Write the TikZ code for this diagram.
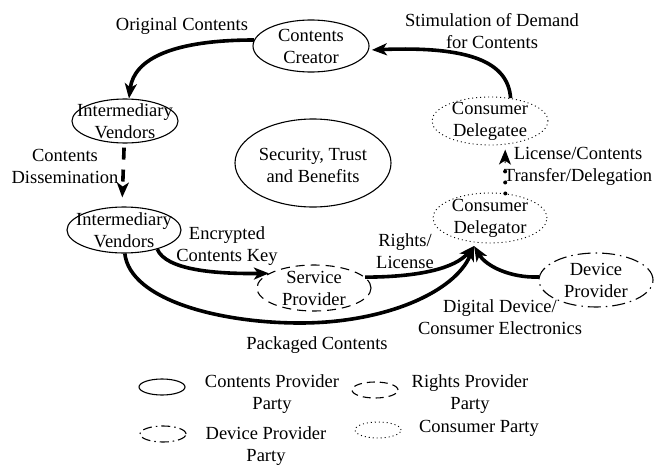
\documentclass[tikz,border=0pt]{standalone}
\usepackage{fontspec}
\setmainfont{Liberation Serif}
\usetikzlibrary{arrows.meta,shapes.geometric}

\tikzset{
  party/.style={draw, ellipse, inner sep=0pt, line width=1.1pt},
  contentsparty/.style={party},
  rightsparty/.style={party, dash pattern=on 9pt off 6pt},
  deviceparty/.style={party, dash pattern=on 13pt off 5pt on 1.5pt off 5pt},
  consumerparty/.style={party, line width=0.9pt, dash pattern=on 1pt off 3pt},
  big/.style={minimum width=114pt, minimum height=48pt},
  small/.style={minimum width=46pt, minimum height=16pt},
  txt/.style={align=center, inner sep=0pt},
  head/.style={-{Stealth[length=15pt,width=12pt,inset=4pt]}},
  flow/.style={line width=3.6pt, head},
  dashflow/.style={flow, dash pattern=on 12pt off 10pt},
  dotline/.style={line width=4pt, line cap=round, dash pattern=on 0pt off 11pt},
}

\begin{document}
\begin{tikzpicture}[x=1pt, y=-1pt, font=\fontsize{18.5}{22}\selectfont]
\useasboundingbox (0,0) rectangle (656,471);

% parties
\node[contentsparty, minimum width=116pt, minimum height=52pt] (cc) at (311,46) {};
\node[contentsparty, minimum width=106pt, minimum height=44pt] (iv1) at (125,121) {};
\node[contentsparty, minimum width=114pt, minimum height=46pt] (iv2) at (124,230) {};
\node[contentsparty, minimum width=156pt, minimum height=88pt] (stb) at (313,163) {};
\node[rightsparty, big, minimum height=46pt] (sp) at (314,288) {};
\node[deviceparty, big, minimum height=54pt] (dp) at (596,280) {};
\node[consumerparty, minimum width=116pt, minimum height=48pt] (cde) at (490,121) {};
\node[consumerparty, big, minimum height=50pt] (cdr) at (490,218) {};

% party names
\node[txt] (cct)  at (cc.center)  {Contents\\Creator};
\node[txt] (iv1t) at (iv1.center) {Intermediary\\Vendors};
\node[txt] (iv2t) at (iv2.center) {Intermediary\\Vendors};
\node[txt] (stbt) at (313,165)    {Security, Trust\\and Benefits};
\node[txt] (spt)  at (sp.center)  {Service\\Provider};
\node[txt] (dpt)  at (dp.center)  {Device\\Provider};
\node[txt] (cdet) at (cde.center) {Consumer\\Delegatee};
\node[txt] (cdrt) at (cdr.center) {Consumer\\Delegator};

% point where the three incoming flows meet under the delegator
\coordinate (meet) at (474,246);
% base of the head on the dotted delegation flow
\coordinate (dotbase) at (505,163);

% flows
\draw[flow] (cc.174) .. controls (175,40) and (134,58) .. (iv1.80);
\draw[dashflow, shorten <=4pt, shorten >=9pt] (iv1.-92) -- (iv2.95);
\draw[flow] (iv2.-30) .. controls (166,270) and (215,274) .. (sp.162);
\draw[flow] (iv2.-88) .. controls (130,300) and (220,323) .. (300,323)
            .. controls (385,323) and (455,292) .. (meet);
\draw[flow] (sp.12) .. controls (420,277) and (455,268) .. (meet);
\draw[flow] (dp.177) .. controls (510,278) and (486,266) .. (meet);
\draw[dotline] (cdr.58) -- (dotbase);
\draw[head, line width=1pt, shorten >=5pt] (dotbase) -- (cde.-57);
\draw[flow, shorten >=3pt] (cde.48) .. controls (508,62) and (470,46) .. (cc.-4);

% flow labels
\node[txt] (l1) at (182,26)  {Original Contents};
\node[txt] (l2) at (65,166)  {Contents\\Dissemination};
\node[txt] (l3) at (227,246) {Encrypted\\Contents Key};
\node[txt] (l4) at (405,251) {Rights/\\License};
\node[txt] (l5) at (500,317) {Digital Device/\\Consumer Electronics};
\node[txt] (l6) at (317,345) {Packaged Contents};
\node[txt] (l7) at (578,166) {License/Contents\\Transfer/Delegation};
\node[txt] (l8) at (492,31)  {Stimulation of Demand\\for Contents};

% legend
\node[contentsparty, small] (k1) at (162,387) {};
\node[txt] (k1t) at (272,394) {Contents Provider\\Party};
\node[rightsparty, small, dash pattern=on 8pt off 5pt] (k2) at (375,390) {};
\node[txt] (k2t) at (470,394) {Rights Provider\\Party};
\node[deviceparty, small, dash pattern=on 9pt off 4pt on 1.5pt off 4pt] (k3) at (163,434) {};
\node[txt] (k3t) at (266,446) {Device Provider\\Party};
\node[consumerparty, small] (k4) at (378,430) {};
\node[txt] (k4t) at (479,428) {Consumer Party};
\end{tikzpicture}
\end{document}
